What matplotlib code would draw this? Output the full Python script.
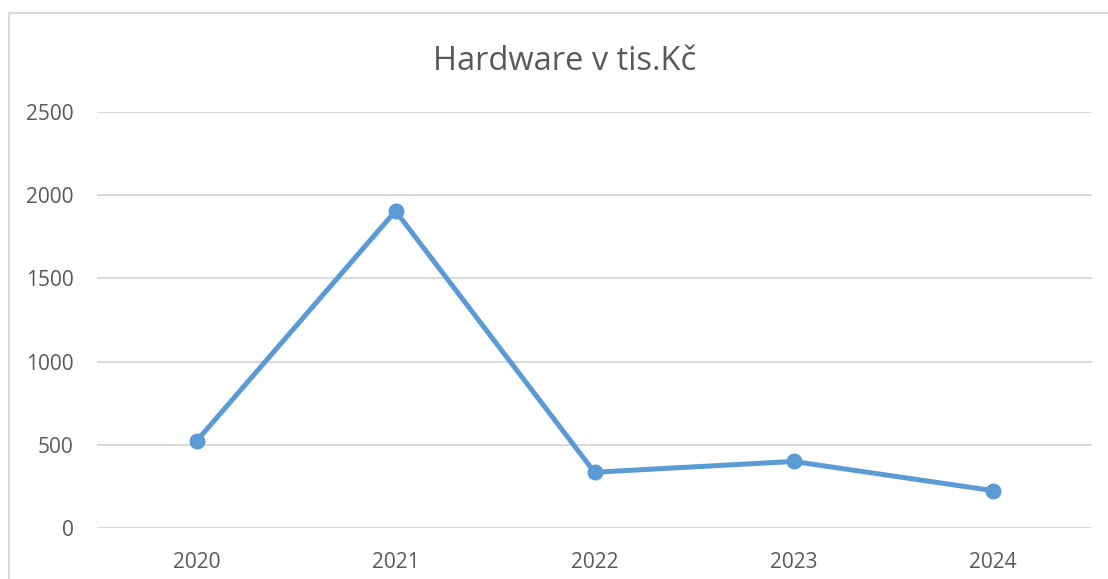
import matplotlib.pyplot as plt
from matplotlib.patches import Rectangle

# data
years = ['2020', '2021', '2022', '2023', '2024']
hardware = [522, 1905, 335, 400, 225]
y_ticks = [0, 500, 1000, 1500, 2000, 2500]

text_color = '#595959'
line_color = '#5B9BD5'
grid_color = '#D9D9D9'

plt.rcParams['font.family'] = ['Open Sans', 'DejaVu Sans']

fig = plt.figure(figsize=(11.08, 5.79), dpi=100)
# outer chart frame (as in the office chart export)
fig.patches.append(Rectangle((9 / 1108, -0.1), 1.2, 1 - 13 / 579 + 0.1, transform=fig.transFigure,
                             fill=False, edgecolor=grid_color, linewidth=1.5))

ax = fig.add_axes([97 / 1108, 1 - 528 / 579, (1092 - 97) / 1108, (528 - 112) / 579])
x = range(len(years))
ax.plot(x, hardware, color=line_color, linewidth=3.6, marker='o', markersize=10.5,
        solid_capstyle='round', zorder=3)

ax.set_xlim(-0.5, len(years) - 0.5)
ax.set_ylim(0, 2500)
ax.set_yticks(y_ticks)
ax.set_xticks(list(x))
ax.set_xticklabels(years)
ax.grid(axis='y', color=grid_color, linewidth=1.5)
ax.set_axisbelow(True)
for s in ax.spines.values():
    s.set_visible(False)
ax.tick_params(axis='both', length=0, labelsize=15, labelcolor=text_color)
ax.tick_params(axis='y', pad=17)
ax.tick_params(axis='x', pad=17)

fig.text(565 / 1108, 1 - 62 / 579, 'Hardware v tis.Kč', ha='center', va='center',
         fontsize=23.5, color=text_color)

plt.savefig('out.png', dpi=100)
